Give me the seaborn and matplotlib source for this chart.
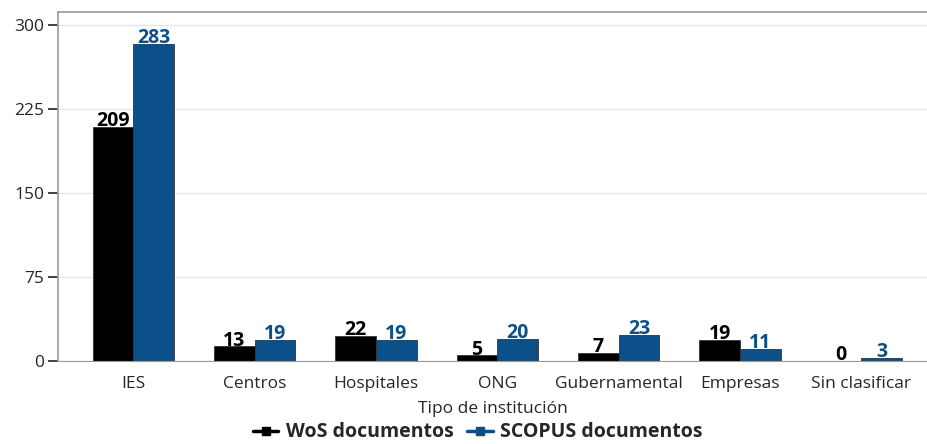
import pandas as pd
import seaborn as sns
import matplotlib.pyplot as plt
from matplotlib.lines import Line2D

# data
categorias = ['IES', 'Centros', 'Hospitales', 'ONG', 'Gubernamental', 'Empresas', 'Sin clasificar']
wos = [209, 13, 22, 5, 7, 19, 0]
scopus = [283, 19, 19, 20, 23, 11, 3]
series = ['WoS documentos', 'SCOPUS documentos']
colores = ['#000000', '#0b5088']

df = pd.DataFrame({
    'tipo': categorias * 2,
    'docs': wos + scopus,
    'fuente': [series[0]] * len(wos) + [series[1]] * len(scopus),
})

sns.set_style('white')
plt.rcParams['font.family'] = ['Open Sans', 'DejaVu Sans']

fig = plt.figure(figsize=(9.28, 4.44), dpi=100)
ax = fig.add_axes([0.0625, 0.187, 0.9375, 0.786])

sns.barplot(data=df, x='tipo', y='docs', hue='fuente', palette=colores, saturation=1,
            width=0.67, edgecolor='#333333', linewidth=0.6, ax=ax, legend=False)

# value labels on top of bars
for cont, col in zip(ax.containers, colores):
    ax.bar_label(cont, fmt='%d', color=col, fontsize=14, fontweight='bold', padding=-3)

ax.set_ylim(0, 311.5)
ax.set_xlim(-0.62, 6.55)
ax.set_yticks([0, 75, 150, 225, 300])
ax.yaxis.grid(True, color='#e6e6e6', linewidth=1)
ax.set_axisbelow(True)

for s in ['left', 'top']:
    ax.spines[s].set_color('#9a9a9a')
    ax.spines[s].set_linewidth(1.2)
ax.spines['bottom'].set_color('#9a9a9a')
ax.spines['right'].set_visible(False)

ax.tick_params(axis='y', length=7, width=1.2, color='#222222', labelsize=12.5, pad=3, left=True)
ax.tick_params(axis='x', length=0, labelsize=12.5, pad=11)
ax.set_ylabel('')
ax.set_xlabel('Tipo de institución', fontsize=12.5, labelpad=6)

handles = [Line2D([0], [0], color=c, marker='s', markersize=6, linewidth=2.5) for c in colores]
fig.legend(handles, series, loc='center', bbox_to_anchor=(0.515, 0.026), ncol=2, frameon=False,
           prop={'weight': 'bold', 'size': 14}, handlelength=1.3, handletextpad=0.4, columnspacing=0.7,
           borderpad=0.2)

fig.savefig('out.png', dpi=100)
